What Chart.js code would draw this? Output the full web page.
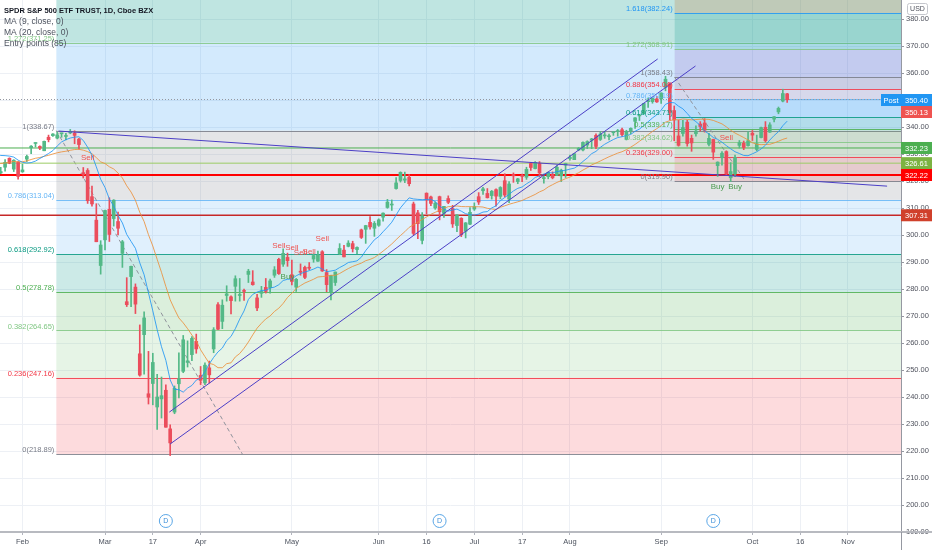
<!DOCTYPE html>
<html>
<head>
<meta charset="utf-8">
<script src="https://cdn.jsdelivr.net/npm/chart.js@4"></script>
<style>
  html, body { margin: 0; padding: 0; background: #fff; }
  #wrap { width: 932px; height: 550px; }
</style>
</head>
<body>
<div id="wrap"><canvas id="chart" width="932" height="550"></canvas></div>
<script>
// SPY daily, 2020-01-27 .. 2020-10-13 (one line per month)
const opens = [
  323.0, 325.1, 328.4, 324.4, 327.0,
  323.4, 328.1, 332.3, 333.9, 332.8, 331.2, 336.2, 336.8, 335.9, 337.5, 336.5, 337.8, 337.7, 335.5, 323.1, 323.9, 314.2, 305.5, 288.7,
  298.2, 309.5, 306.1, 305.0, 293.2, 275.3, 284.6, 280.7, 256.0, 263.1, 241.2, 245.0, 236.3, 239.3, 242.5, 228.2, 234.4, 244.9, 249.5, 252.8, 255.7, 260.6,
  248.0, 245.2, 250.8, 257.8, 274.2, 268.0, 277.6, 277.1, 281.0, 277.6, 279.2, 285.4, 282.6, 276.7, 278.4, 280.6, 280.5, 285.1, 291.0, 289.2, 291.7,
  285.3, 280.7, 286.6, 288.0, 287.8, 291.1, 290.3, 293.8, 286.1, 279.0, 282.4, 293.1, 294.4, 295.8, 296.8, 294.6, 301.9, 302.1, 304.7, 302.5,
  303.6, 306.6, 310.2, 311.1, 317.2, 320.2, 320.3, 321.4, 311.5, 308.2, 298.0, 315.5, 314.1, 310.0, 314.2, 308.0, 313.5, 309.8, 303.5, 306.2, 301.4, 304.0,
  309.6, 314.2, 316.4, 315.4, 314.6, 316.8, 314.3, 320.1, 313.3, 322.4, 319.8, 321.9, 321.4, 326.5, 324.6, 326.5, 320.9, 321.6, 322.4, 322.1, 321.9, 325.9,
  328.3, 327.9, 331.5, 331.5, 333.3, 335.1, 336.9, 335.4, 336.7, 336.4, 337.9, 338.3, 339.0, 335.4, 338.5, 342.1, 344.1, 345.0, 349.4, 349.4, 350.4,
  350.4, 354.7, 355.9, 346.1, 336.7, 337.6, 341.8, 335.8, 337.5, 341.1, 341.5, 333.6, 335.4, 325.7, 328.6, 330.9, 321.2, 322.6, 333.2, 334.0, 333.1,
  337.7, 331.7, 336.1, 339.9, 338.1, 342.9, 345.6, 349.6, 352.3
];
const highs = [
  325.1, 327.9, 328.6, 327.9, 327.2,
  326.2, 329.6, 333.1, 334.2, 333.0, 334.8, 337.0, 337.6, 338.1, 337.7, 337.7, 339.1, 338.6, 335.8, 325.0, 324.6, 318.1, 311.6, 297.9,
  309.2, 313.8, 313.1, 308.5, 298.0, 284.2, 288.5, 281.9, 266.7, 271.5, 256.9, 256.2, 248.4, 247.4, 244.5, 229.7, 244.1, 256.4, 262.8, 260.8, 262.4, 263.3,
  251.3, 252.7, 253.3, 265.7, 275.0, 276.0, 281.2, 277.5, 284.9, 283.9, 280.0, 287.3, 286.8, 278.0, 281.0, 283.9, 283.7, 288.3, 291.4, 294.9, 293.3,
  290.7, 283.9, 289.3, 288.5, 289.8, 293.0, 294.0, 294.2, 287.2, 285.1, 286.3, 296.8, 296.2, 297.9, 297.7, 295.6, 302.2, 303.6, 306.8, 305.0,
  306.0, 308.2, 313.2, 313.0, 321.3, 323.4, 323.3, 322.4, 312.2, 309.1, 308.3, 315.6, 314.4, 312.3, 314.4, 310.6, 314.5, 311.0, 307.6, 306.4, 304.6, 310.2,
  311.9, 315.7, 317.7, 317.2, 316.5, 317.1, 317.9, 322.7, 319.8, 323.0, 321.0, 322.6, 325.1, 326.9, 327.2, 327.2, 322.0, 323.4, 323.4, 325.7, 324.4, 326.6,
  329.6, 330.1, 332.4, 334.5, 334.9, 335.8, 337.5, 338.3, 338.3, 337.4, 338.3, 339.1, 339.6, 338.8, 339.7, 343.5, 344.6, 348.8, 350.7, 350.9, 351.3,
  352.7, 358.8, 356.4, 347.8, 342.6, 342.5, 342.5, 337.0, 340.4, 342.0, 343.1, 337.7, 335.5, 327.1, 330.9, 331.2, 326.8, 329.6, 335.0, 334.8, 338.3,
  338.7, 337.0, 340.0, 342.0, 341.6, 343.9, 347.4, 354.0, 352.5
];
const lows = [
  322.7, 323.6, 326.4, 323.5, 320.7,
  323.2, 327.2, 330.1, 332.6, 331.6, 331.2, 334.5, 336.5, 335.6, 336.2, 335.2, 337.5, 333.8, 331.8, 321.1, 311.7, 310.7, 297.5, 285.5,
  294.5, 297.6, 303.3, 300.0, 288.0, 273.5, 273.5, 270.9, 247.7, 248.5, 237.4, 237.1, 228.0, 232.2, 228.8, 218.3, 233.8, 239.7, 249.0, 251.1, 253.5, 256.2,
  244.6, 244.6, 245.2, 256.4, 264.9, 265.3, 275.5, 270.8, 275.5, 275.5, 275.8, 282.4, 281.4, 272.0, 276.9, 278.5, 278.5, 284.3, 285.4, 288.4, 288.4,
  281.5, 279.1, 285.1, 283.8, 287.1, 289.9, 290.2, 286.5, 279.0, 276.0, 281.3, 292.7, 291.9, 295.6, 293.7, 293.1, 298.7, 296.9, 302.2, 299.5,
  303.2, 305.1, 309.9, 309.1, 317.0, 319.6, 319.4, 318.2, 300.0, 298.6, 296.7, 307.9, 310.9, 309.5, 305.6, 306.5, 311.6, 302.8, 301.2, 299.4, 298.9, 303.8,
  309.1, 311.3, 315.0, 313.7, 313.3, 310.7, 313.4, 314.1, 312.0, 319.5, 319.0, 319.8, 320.6, 323.9, 324.5, 321.5, 319.2, 320.8, 320.8, 322.0, 319.8, 321.3,
  327.7, 327.9, 331.2, 331.1, 332.0, 332.0, 332.0, 335.0, 335.8, 335.2, 336.9, 336.6, 336.6, 335.2, 337.5, 339.5, 342.4, 344.8, 347.3, 348.8, 349.1,
  348.7, 353.4, 342.6, 334.9, 332.9, 336.6, 332.9, 331.0, 336.6, 338.5, 338.1, 333.0, 328.0, 321.7, 325.9, 322.1, 319.8, 321.6, 332.2, 331.6, 332.9,
  335.0, 331.2, 336.0, 334.4, 338.0, 341.9, 344.9, 349.3, 349.1
];
const closes = [
  323.5, 326.9, 326.6, 327.7, 321.7,
  324.1, 329.1, 332.9, 333.9, 332.2, 334.7, 335.3, 337.4, 337.1, 337.6, 336.7, 338.3, 336.9, 333.5, 322.4, 312.7, 311.5, 297.5, 296.3,
  309.1, 300.2, 312.9, 302.5, 297.5, 274.2, 288.4, 274.4, 248.1, 269.3, 239.9, 252.8, 240.0, 240.5, 228.8, 223.0, 243.2, 246.8, 261.2, 253.4, 261.7, 257.8,
  246.2, 251.8, 248.2, 264.9, 265.1, 274.0, 278.2, 275.7, 283.8, 277.8, 279.1, 286.6, 281.6, 273.0, 279.1, 279.1, 283.0, 287.1, 285.7, 293.2, 290.5,
  282.8, 283.6, 286.2, 284.3, 287.7, 292.4, 292.5, 286.7, 281.6, 285.0, 286.3, 295.0, 291.9, 297.0, 294.9, 295.4, 299.1, 303.5, 303.0, 304.3,
  305.6, 308.1, 312.2, 311.4, 319.3, 323.2, 320.8, 319.0, 300.6, 304.2, 307.1, 313.0, 311.7, 311.8, 308.6, 310.6, 312.1, 304.1, 307.4, 300.1, 304.5, 308.4,
  310.5, 312.2, 317.1, 313.8, 316.2, 314.4, 317.6, 314.8, 318.9, 321.9, 320.8, 321.7, 324.3, 325.0, 326.9, 323.0, 320.9, 323.2, 321.2, 325.1, 324.0, 326.5,
  328.8, 330.1, 332.1, 334.3, 334.6, 335.6, 332.8, 337.4, 336.8, 336.8, 337.9, 338.6, 337.2, 338.3, 339.5, 343.4, 344.5, 348.7, 349.4, 350.6, 349.3,
  352.6, 357.7, 345.4, 342.6, 333.2, 339.8, 333.9, 334.1, 338.5, 340.2, 338.8, 335.8, 330.7, 327.0, 330.3, 322.6, 323.5, 328.7, 334.2, 332.4, 334.9,
  337.0, 333.8, 339.8, 334.9, 340.8, 343.8, 346.9, 352.4, 350.1
];
// closes before the first visible bar (only feed the moving averages)
const earlierCloses = [321.2, 322.9, 322.9, 321.1, 321.9, 324.9, 322.4, 323.6, 322.7, 324.5, 326.7,
  325.7, 328.0, 327.5, 328.2, 330.9, 332.0, 331.3, 331.3, 331.7, 328.8];

const holidays = ['2020-02-17', '2020-04-10', '2020-05-25', '2020-07-03', '2020-09-07'];
const xTickDates = ['2020-02-03', '2020-03-02', '2020-03-17', '2020-04-01', '2020-05-01', '2020-06-01', '2020-06-16',
  '2020-07-01', '2020-07-17', '2020-08-03', '2020-09-01', '2020-10-01', '2020-10-16', '2020-11-02'];
const xTickLabels = ['Feb', 'Mar', '17', 'Apr', 'May', 'Jun', '16', 'Jul', '17', 'Aug', 'Sep', 'Oct', '16', 'Nov'];
const dividendDates = ['2020-03-20', '2020-06-19', '2020-09-18'];

// fibonacci retracements: [level, price]
const fib1Levels = [0, 0.236, 0.382, 0.5, 0.618, 0.786, 1, 1.272, 1.618];
const fib1Prices = [218.89, 247.16, 264.65, 278.78, 292.92, 313.04, 338.67, 371.25, 412.70];
const fib2Levels = [0, 0.236, 0.382, 0.5, 0.618, 0.786, 0.886, 1, 1.272, 1.618, 2.618];
const fib2Prices = [319.90, 329.00, 334.62, 339.17, 343.71, 350.19, 354.04, 358.43, 368.91, 382.24, 420.77];

// horizontal price levels
const levelPrices = [332.23, 326.61, 322.22, 307.31];
const postPrice = 350.40;
const lastPrice = 350.13;

// drawn trend lines: [startIndex, startPrice, endIndex, endPrice]
const trendLines = [
  [13.3, 338.5, 204.0, 318.1],
  [38.8, 234.4, 151.2, 365.2],
  [39.0, 222.6, 159.9, 362.6]
];

// signals
const sellIdx = [20, 64, 67, 69, 71, 74, 167];
const sellAt = [328.5, 295.9, 295.2, 293.3, 293.7, 298.5, 335.9];
const buyIdx = [66, 165, 169];
const buyAt = [284.4, 317.8, 317.8];

// trading calendar
const days = [];
for (let t = Date.UTC(2020, 0, 27); days.length < 212; t += 864e5) {
  const d = new Date(t);
  const s = d.toISOString().slice(0, 10);
  if (d.getUTCDay() === 0 || d.getUTCDay() === 6 || holidays.includes(s)) continue;
  days.push(s);
}
const dayIdx = s => days.indexOf(s);

const UP = '#53b987', DOWN = '#eb4d5c';
const FONT = "'Liberation Sans', Arial, sans-serif";
const levelColor = { 0: '#787b86', 0.236: '#f23645', 0.382: '#81c784', 0.5: '#4caf50', 0.618: '#089981',
  0.786: '#64b5f6', 0.886: '#f23645', 1: '#787b86', 1.272: '#81c784', 1.618: '#2196f3', 2.618: '#f23645' };
const fib1Fills = ['rgba(242,54,69,0.18)', 'rgba(129,199,132,0.2)', 'rgba(76,175,80,0.2)', 'rgba(0,150,136,0.2)',
  'rgba(100,181,246,0.2)', 'rgba(120,123,134,0.2)', 'rgba(33,150,243,0.2)', 'rgba(0,150,136,0.25)'];
const fib2Fills = ['rgba(242,54,69,0.15)', 'rgba(129,199,132,0.2)', 'rgba(76,175,80,0.15)', 'rgba(0,150,136,0.15)',
  'rgba(100,181,246,0.25)', 'rgba(242,54,69,0.1)', 'rgba(160,80,110,0.18)', 'rgba(120,60,170,0.18)',
  'rgba(0,150,136,0.2)', 'rgba(190,140,90,0.3)'];

const idx = closes.map((_, i) => i);
const colorOf = i => closes[i] >= opens[i] ? UP : DOWN;

const allCloses = earlierCloses.concat(closes);
function sma(len) {
  const out = [];
  for (let i = -1; i < closes.length; i++) {
    const k = i + earlierCloses.length;
    const win = allCloses.slice(k - len + 1, k + 1);
    out.push({ x: i, y: win.reduce((s, v) => s + v, 0) / len });
  }
  return out;
}

function drawFib(ctx, x, y, a, startIdx, levels, prices, fills) {
  const xl = x.getPixelForValue(startIdx);
  for (let k = 0; k < fills.length; k++) {
    const y0 = y.getPixelForValue(prices[k]);
    const y1 = y.getPixelForValue(prices[k + 1]);
    ctx.fillStyle = fills[k];
    ctx.fillRect(xl, y1, a.right - xl, y0 - y1);
  }
  ctx.lineWidth = 1;
  levels.forEach((lv, k) => {
    const py = Math.round(y.getPixelForValue(prices[k])) + 0.5;
    if (py < a.top) return;
    ctx.strokeStyle = levelColor[lv];
    ctx.globalAlpha = 0.85;
    ctx.beginPath(); ctx.moveTo(xl, py); ctx.lineTo(a.right, py); ctx.stroke();
    ctx.globalAlpha = 1;
  });
}

function fibLabels(ctx, x, y, startIdx, levels, prices) {
  const xl = x.getPixelForValue(startIdx);
  ctx.font = '7.5px ' + FONT;
  ctx.textAlign = 'right';
  ctx.textBaseline = 'middle';
  levels.forEach((lv, k) => {
    const py = y.getPixelForValue(prices[k]);
    if (py < 4) return;
    ctx.fillStyle = levelColor[lv];
    ctx.fillText(lv + '(' + prices[k].toFixed(2) + ')', xl - 2, py - 4);
  });
}

function priceTag(ctx, y, price, text, bg, cy) {
  const py = cy !== undefined ? cy : y.getPixelForValue(price);
  ctx.fillStyle = bg;
  ctx.fillRect(901, py - 6, 31, 12);
  ctx.fillStyle = '#fff';
  ctx.font = '7.5px ' + FONT;
  ctx.textAlign = 'left';
  ctx.textBaseline = 'middle';
  ctx.fillText(text, 905, py + 0.5);
}

const overlay = {
  id: 'overlay',
  beforeDatasetsDraw(chart) {
    const { ctx, chartArea: a, scales: { x, y } } = chart;
    ctx.save();
    ctx.beginPath(); ctx.rect(a.left, a.top, a.right - a.left, a.bottom - a.top); ctx.clip();
    drawFib(ctx, x, y, a, 12.8, fib1Levels, fib1Prices, fib1Fills);
    drawFib(ctx, x, y, a, 155.1, fib2Levels, fib2Prices, fib2Fills);

    // fib diagonals
    ctx.setLineDash([4, 3]);
    ctx.strokeStyle = '#8f929b';
    [[12.8, 338.67, 55.6, 218.89], [155.1, 358.43, 171.4, 319.90]].forEach(l => {
      ctx.beginPath();
      ctx.moveTo(x.getPixelForValue(l[0]), y.getPixelForValue(l[1]));
      ctx.lineTo(x.getPixelForValue(l[2]), y.getPixelForValue(l[3]));
      ctx.stroke();
    });
    // post-market dotted line
    ctx.setLineDash([1, 2]);
    ctx.strokeStyle = '#9598a1';
    let py = Math.round(y.getPixelForValue(postPrice)) + 0.5;
    ctx.beginPath(); ctx.moveTo(a.left, py); ctx.lineTo(a.right, py); ctx.stroke();
    ctx.setLineDash([]);

    // horizontal price levels
    const lc = ['#4caf50', '#9ccc65', '#ff0000', '#c62828'];
    const lw = [1, 1, 2, 1.5];
    levelPrices.forEach((p, k) => {
      py = y.getPixelForValue(p);
      ctx.strokeStyle = lc[k];
      ctx.lineWidth = lw[k];
      ctx.beginPath(); ctx.moveTo(a.left, py); ctx.lineTo(a.right, py); ctx.stroke();
    });
    ctx.restore();
  },
  afterDatasetsDraw(chart) {
    const { ctx, chartArea: a, scales: { x, y } } = chart;
    ctx.save();
    ctx.beginPath(); ctx.rect(a.left, a.top, a.right - a.left, a.bottom - a.top); ctx.clip();
    ctx.strokeStyle = '#4b3fc6';
    ctx.lineWidth = 1;
    trendLines.forEach(l => {
      ctx.beginPath();
      ctx.moveTo(x.getPixelForValue(l[0]), y.getPixelForValue(l[1]));
      ctx.lineTo(x.getPixelForValue(l[2]), y.getPixelForValue(l[3]));
      ctx.stroke();
    });
    fibLabels(ctx, x, y, 12.8, fib1Levels, fib1Prices);
    fibLabels(ctx, x, y, 155.1, fib2Levels, fib2Prices);

    ctx.font = '8px ' + FONT;
    ctx.textAlign = 'center';
    ctx.textBaseline = 'middle';
    ctx.fillStyle = '#ef5350';
    sellIdx.forEach((i, k) => ctx.fillText('Sell', x.getPixelForValue(i), y.getPixelForValue(sellAt[k])));
    ctx.fillStyle = '#4a9a4e';
    buyIdx.forEach((i, k) => ctx.fillText('Buy', x.getPixelForValue(i), y.getPixelForValue(buyAt[k])));

    // dividend markers
    dividendDates.forEach(d => {
      const cx = x.getPixelForValue(dayIdx(d));
      ctx.beginPath(); ctx.arc(cx, 521, 6.5, 0, Math.PI * 2);
      ctx.fillStyle = '#fff'; ctx.fill();
      ctx.strokeStyle = '#5aa6e6'; ctx.lineWidth = 1; ctx.stroke();
      ctx.fillStyle = '#3d8fd8'; ctx.font = '7px ' + FONT;
      ctx.fillText('D', cx, 521.5);
    });
    ctx.restore();
  },
  afterDraw(chart) {
    const { ctx, chartArea: a, scales: { y } } = chart;
    ctx.save();
    // bottom axis line and axis divider below it
    ctx.fillStyle = '#b8bac0';
    ctx.fillRect(0, a.bottom - 1, 932, 2);
    ctx.fillStyle = '#9598a1';
    ctx.fillRect(a.right, a.bottom, 1, 550 - a.bottom);

    // price tags
    ctx.fillStyle = '#2196f3';
    ctx.fillRect(881, 94, 20, 12);
    ctx.fillStyle = '#fff'; ctx.font = '7.5px ' + FONT; ctx.textAlign = 'center'; ctx.textBaseline = 'middle';
    ctx.fillText('Post', 891, 100.5);
    priceTag(ctx, y, postPrice, postPrice.toFixed(2), '#2196f3', 100);
    priceTag(ctx, y, lastPrice, lastPrice.toFixed(2), '#ef5350', 112);
    const tagColors = ['#4caf50', '#7cb342', '#ff0000', '#d0402b'];
    levelPrices.forEach((p, k) => priceTag(ctx, y, p, p.toFixed(2), tagColors[k]));

    // USD box
    ctx.strokeStyle = '#c4c6cc'; ctx.lineWidth = 1;
    ctx.fillStyle = '#fff';
    ctx.beginPath(); ctx.roundRect(907.5, 3.5, 20, 11, 2); ctx.fill(); ctx.stroke();
    ctx.fillStyle = '#50535e'; ctx.font = '7px ' + FONT; ctx.textAlign = 'center';
    ctx.fillText('USD', 917.5, 9.5);

    // legend
    ctx.textAlign = 'left'; ctx.textBaseline = 'middle';
    ctx.fillStyle = '#131722';
    ctx.font = 'bold 7.5px ' + FONT;
    ctx.fillText('SPDR S&P 500 ETF TRUST, 1D, Cboe BZX', 4, 11);
    ctx.fillStyle = '#4c525e';
    ctx.font = '8.5px ' + FONT;
    ctx.fillText('MA (9, close, 0)', 4, 22);
    ctx.fillText('MA (20, close, 0)', 4, 33);
    ctx.fillText('Entry points (85)', 4, 44);
    ctx.restore();
  }
};

Chart.defaults.font.family = FONT;

new Chart(document.getElementById('chart'), {
  type: 'bar',
  data: {
    datasets: [
      {
        type: 'line', data: sma(9), borderColor: 'rgba(33,150,243,0.85)', borderWidth: 1,
        pointRadius: 0, tension: 0, order: 1
      },
      {
        type: 'line', data: sma(20), borderColor: 'rgba(235,145,60,0.85)', borderWidth: 1,
        pointRadius: 0, tension: 0, order: 1
      },
      {
        data: idx.map(i => ({ x: i, y: [opens[i], closes[i]] })),
        backgroundColor: idx.map(colorOf), barThickness: 3, minBarLength: 1, grouped: false, order: 2
      },
      {
        data: idx.map(i => ({ x: i, y: [lows[i], highs[i]] })),
        backgroundColor: idx.map(colorOf), barThickness: 1, grouped: false, order: 3
      }
    ]
  },
  options: {
    responsive: false,
    devicePixelRatio: 1,
    animation: false,
    layout: { padding: 0 },
    plugins: { legend: { display: false }, tooltip: { enabled: false } },
    scales: {
      x: {
        type: 'linear', min: -0.17, max: 207.2, offset: false,
        afterBuildTicks: s => { s.ticks = xTickDates.map(d => ({ value: dayIdx(d) })); },
        afterFit: s => { s.height = 18; s.paddingLeft = 0; s.paddingRight = 0; },
        ticks: {
          autoSkip: false, maxRotation: 0, padding: 2, color: '#4c525e', font: { size: 7.5 },
          callback: (v, i) => xTickLabels[i]
        },
        grid: { offset: false, color: '#edf0f5', tickColor: '#b2b5be', tickLength: 3 },
        border: { display: false }
      },
      y: {
        type: 'linear', position: 'right', min: 190, max: 387.04,
        afterFit: s => { s.width = 31; s.paddingTop = 0; s.paddingBottom = 0; },
        ticks: {
          stepSize: 10, includeBounds: false, padding: 2, color: '#50535e', font: { size: 7.5 },
          callback: v => v.toFixed(2)
        },
        grid: { color: '#edf0f5', tickColor: '#9598a1', tickLength: 3 },
        border: { display: true, color: '#9598a1' }
      }
    }
  },
  plugins: [overlay]
});
</script>
</body>
</html>
